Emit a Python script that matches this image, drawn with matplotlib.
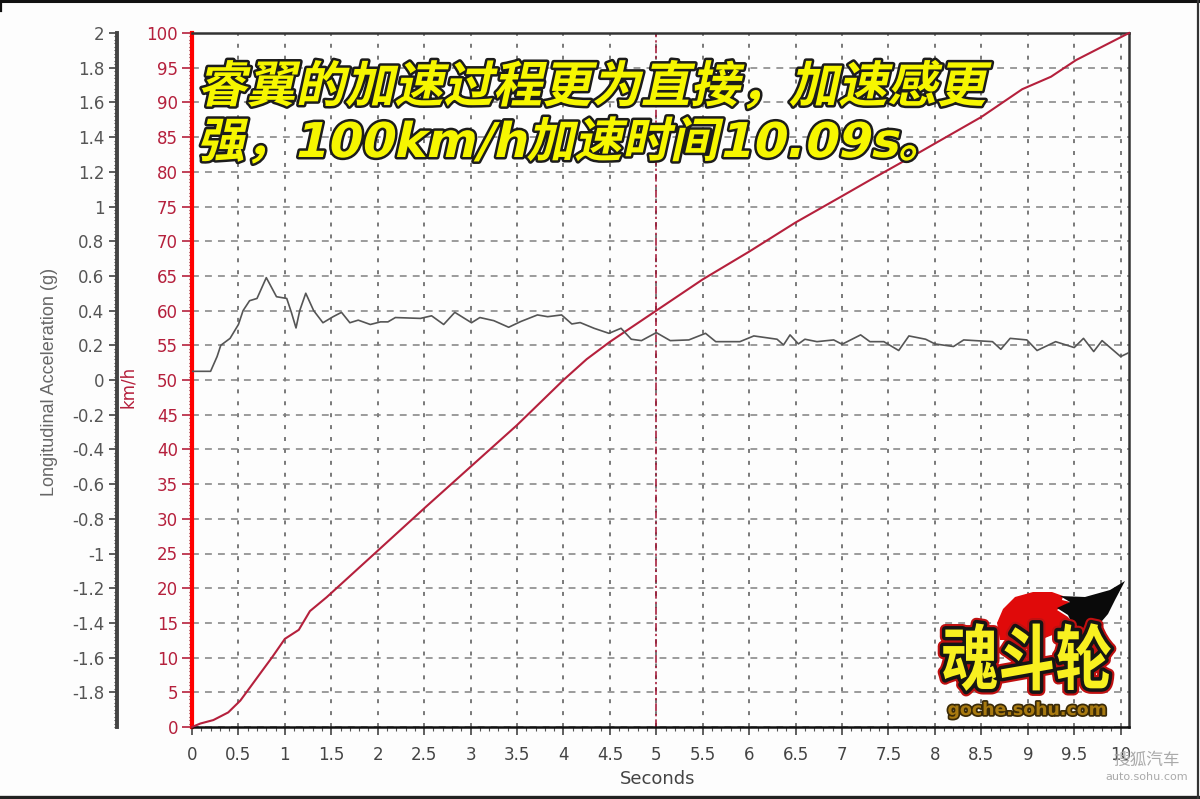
import numpy as np
import matplotlib
matplotlib.use('Agg')
import matplotlib.pyplot as plt
import matplotlib.patheffects as pe
from matplotlib.patches import Polygon
from matplotlib.transforms import Affine2D

# speed trace
time_speed = [0, 0.09, 0.23, 0.39, 0.52, 0.63, 0.75, 0.86, 1.0, 1.15, 1.27, 1.45, 2.0, 2.5, 3.0, 3.5, 4.0, 4.25, 4.5,
              5.0, 5.5, 6.0, 6.5, 7.0, 7.3, 7.82, 8.5, 8.94, 9.25, 9.52, 10.09]
speed_kmh = [0, 0.5, 1.0, 2.1, 3.8, 5.8, 8.0, 10.0, 12.7, 14.0, 16.7, 18.7, 25.4, 31.5, 37.5, 43.5, 50.0, 53.0, 55.5,
             60.0, 64.5, 68.5, 72.7, 76.5, 78.8, 82.7, 87.9, 91.9, 93.7, 96.1, 100]

# longitudinal acceleration trace
time_acc = [0, 0.2, 0.27, 0.31, 0.41, 0.5, 0.55, 0.62, 0.7, 0.8, 0.91, 1.02, 1.07, 1.12, 1.16, 1.225, 1.31, 1.41,
            1.52, 1.61, 1.7, 1.79, 1.92, 2.03, 2.11, 2.19, 2.46, 2.58, 2.71, 2.83, 3.01, 3.1, 3.25, 3.41, 3.54,
            3.72, 3.83, 3.98, 4.09, 4.18, 4.33, 4.49, 4.62, 4.73, 4.84, 5.0, 5.15, 5.35, 5.53, 5.64, 5.9, 6.05,
            6.3, 6.37, 6.44, 6.53, 6.6, 6.73, 6.91, 7.0, 7.2, 7.3, 7.45, 7.61, 7.72, 7.9, 8.0, 8.2, 8.31, 8.62,
            8.71, 8.81, 8.99, 9.1, 9.3, 9.5, 9.6, 9.71, 9.8, 10.0, 10.09]
accel_g = [0.05, 0.05, 0.135, 0.2, 0.24, 0.32, 0.4, 0.457, 0.47, 0.59, 0.48, 0.47, 0.39, 0.3, 0.4, 0.5, 0.4, 0.33,
           0.365, 0.39, 0.33, 0.345, 0.32, 0.335, 0.335, 0.36, 0.355, 0.37, 0.32, 0.39, 0.33, 0.36, 0.342, 0.304,
           0.337, 0.375, 0.365, 0.375, 0.323, 0.331, 0.298, 0.269, 0.298, 0.235, 0.227, 0.273, 0.227, 0.231, 0.269,
           0.221, 0.221, 0.254, 0.235, 0.202, 0.26, 0.208, 0.235, 0.221, 0.231, 0.206, 0.26, 0.221, 0.221, 0.17,
           0.254, 0.235, 0.208, 0.193, 0.231, 0.221, 0.177, 0.24, 0.231, 0.17, 0.221, 0.187, 0.24, 0.164, 0.227,
           0.135, 0.158]

x_ticks = [i * 0.5 for i in range(21)]
x_labels = ['0', '0.5', '1', '1.5', '2', '2.5', '3', '3.5', '4', '4.5', '5', '5.5', '6', '6.5', '7', '7.5', '8',
            '8.5', '9', '9.5', '10']
speed_ticks = list(range(0, 101, 5))
acc_ticks = [-1.8, -1.6, -1.4, -1.2, -1, -0.8, -0.6, -0.4, -0.2, 0, 0.2, 0.4, 0.6, 0.8, 1, 1.2, 1.4, 1.6, 1.8, 2]
acc_labels = ['-1.8', '-1.6', '-1.4', '-1.2', '-1', '-0.8', '-0.6', '-0.4', '-0.2', '0', '0.2', '0.4', '0.6',
              '0.8', '1', '1.2', '1.4', '1.6', '1.8', '2']
cursor_time = 5

title_line1 = '睿翼的加速过程更为直接，加速感更'
title_line2 = '强，100km/h加速时间10.09s。'

W, H = 1200, 799
GRAY = '#555555'
RED = '#b5203c'


class Warped(pe.AbstractPathEffect):
    # fake italic / tall letters, the CJK fonts have no such faces
    def __init__(self, inner, slant=0.0, yscale=1.0):
        super().__init__()
        self.inner = inner
        self.slant = slant
        self.yscale = yscale

    def draw_path(self, renderer, gc, tpath, affine, rgbFace=None):
        warp = Affine2D.from_values(1, 0, self.slant, self.yscale, 0, 0)
        self.inner.draw_path(renderer, gc, tpath, warp + affine, rgbFace)


fig = plt.figure(figsize=(W / 100, H / 100), dpi=100, facecolor='#fdfdfd')
ax = fig.add_axes([192 / W, 1 - 727 / H, (1129 - 192) / W, (727 - 33) / H], facecolor='#fdfdfd')

# speed axis
ax.set_xlim(0, 10.09)
ax.set_ylim(0, 100)
ax.set_xticks(x_ticks)
ax.set_xticklabels(x_labels, fontsize=12, color='#444444')
ax.set_xticks(np.arange(0, 10.05, 0.1), minor=True)
ax.set_yticks(speed_ticks)
ax.set_yticks(np.arange(0, 100.1, 0.5), minor=True)
ax.tick_params(axis='y', which='major', length=7, width=1.2, color=RED, labelcolor=RED, labelsize=12, pad=3)
ax.tick_params(axis='y', which='minor', length=2, width=0.8, color='#7a1020')
ax.tick_params(axis='x', which='major', length=6, width=1.2, color='#444444', pad=8)
ax.tick_params(axis='x', which='minor', length=3, width=0.8, color='#555555')
ax.xaxis.grid(True, which='major', color='#555555', linewidth=1.1, linestyle=(0, (2.6, 5.2)))
ax.yaxis.grid(True, which='major', color='#808080', linewidth=1.1, linestyle=(0, (4.5, 4)))
ax.set_axisbelow(True)
for side in ['top', 'right', 'bottom']:
    ax.spines[side].set_color('#333333')
    ax.spines[side].set_linewidth(1.8)
ax.spines['bottom'].set_color('#111111')
ax.spines['left'].set_color('#ff0000')
ax.spines['left'].set_linewidth(3)
ax.set_xlabel('Seconds', fontsize=13, color='#444444', labelpad=6)
ax.xaxis.set_label_coords(0.497, -0.062)
ax.set_ylabel('km/h', fontsize=12, color=RED)
ax.yaxis.set_label_coords(-0.0585, 0.49)

ax.axvline(cursor_time, color='#a01030', linewidth=1.1, linestyle=(0, (5, 2, 1.5, 2)), zorder=2)

# acceleration axis sits further out on the left
ax2 = ax.twinx()
ax2.set_ylim(-2, 2)
ax2.yaxis.set_ticks_position('left')
ax2.yaxis.set_label_position('left')
ax2.spines['left'].set_position(('outward', 54))
ax2.spines['left'].set_visible(True)
ax2.spines['left'].set_color('#444444')
ax2.spines['left'].set_linewidth(2.8)
for side in ['top', 'right', 'bottom']:
    ax2.spines[side].set_visible(False)
ax2.set_yticks(acc_ticks)
ax2.set_yticklabels(acc_labels)
ax2.set_yticks(np.arange(-2, 2.001, 0.02), minor=True)
ax2.tick_params(axis='y', which='major', length=6, width=1.2, color='#444444', labelcolor='#555555', labelsize=12,
                pad=3)
ax2.tick_params(axis='y', which='minor', length=2, width=0.8, color='#444444')
ax2.set_ylabel('Longitudinal Acceleration (g)', fontsize=13, color='#666666', family='Liberation Sans')
ax2.yaxis.set_label_coords(-0.143, 0.497)

ax2.plot(time_acc, accel_g, color=GRAY, linewidth=1.2, zorder=3)
ax.plot(time_speed, speed_kmh, color=RED, linewidth=1.5, zorder=4, clip_on=False)

# overlay in picture pixels: frame, caption, logo, watermark
over = fig.add_axes([0, 0, 1, 1], facecolor='none')
over.set_xlim(0, W)
over.set_ylim(H, 0)
over.axis('off')
over.plot([0, W], [0.8, 0.8], color='#111111', linewidth=2.2)
over.plot([0, W], [797, 797], color='#222222', linewidth=2.4)
over.plot([1198, 1198], [0, H], color='#333333', linewidth=1.6)
over.plot([1, 1], [0, 11], color='#111111', linewidth=1.6)

cap_fx = [Warped(pe.Stroke(linewidth=3.6, foreground='#1c1c1c'), slant=0.22), Warped(pe.Normal(), slant=0.22)]
cap_font = ['DejaVu Sans', 'Noto Sans CJK SC']
over.text(197, 102, title_line1, fontsize=35.5, color='#f6f600', fontweight='bold', family=cap_font,
          ha='left', va='baseline', path_effects=cap_fx)
over.text(197, 157, title_line2, fontsize=34.5, color='#f6f600', fontweight='bold', family=cap_font,
          ha='left', va='baseline', path_effects=cap_fx)

# logo
over.add_patch(Polygon([(997, 623), (1003, 609), (1015, 597), (1033, 592), (1052, 592), (1063, 596), (1062, 600),
                        (1070, 602), (1057, 610), (1068, 617), (1075, 626), (1040, 640), (1000, 640)],
                       closed=True, facecolor='#e00a0a', edgecolor='none', zorder=5))
over.add_patch(Polygon([(1060, 596), (1085, 597), (1110, 590), (1125, 581), (1115, 600), (1108, 614), (1096, 628),
                        (1075, 630), (1068, 615), (1057, 608), (1070, 602)],
                       closed=True, facecolor='#0a0a0a', edgecolor='none', zorder=5))
logo_fx = [Warped(pe.Stroke(linewidth=8, foreground='#c01010'), yscale=1.25),
           Warped(pe.Stroke(linewidth=5, foreground='#151515'), yscale=1.25), Warped(pe.Normal(), yscale=1.25)]
over.text(1027, 667, '魂斗轮', fontsize=41, color='#f8f020', fontweight='bold', family='Noto Sans CJK SC',
          ha='center', va='center', path_effects=logo_fx, zorder=6)
over.text(1027, 710, 'goche.sohu.com', fontsize=12.5, color='#a87a10', fontweight='bold', ha='center', va='center',
          path_effects=[pe.Stroke(linewidth=2.5, foreground='#3a2a08'), pe.Normal()], zorder=6)

# watermark
over.text(1147, 760, '搜狐汽车', fontsize=12, color='#aaaaaa', family='Noto Sans CJK SC', ha='center', va='center',
          zorder=7)
over.text(1147, 777, 'auto.sohu.com', fontsize=8, color='#aaaaaa', ha='center', va='center', zorder=7)

fig.savefig('out.png', dpi=100, facecolor=fig.get_facecolor())
